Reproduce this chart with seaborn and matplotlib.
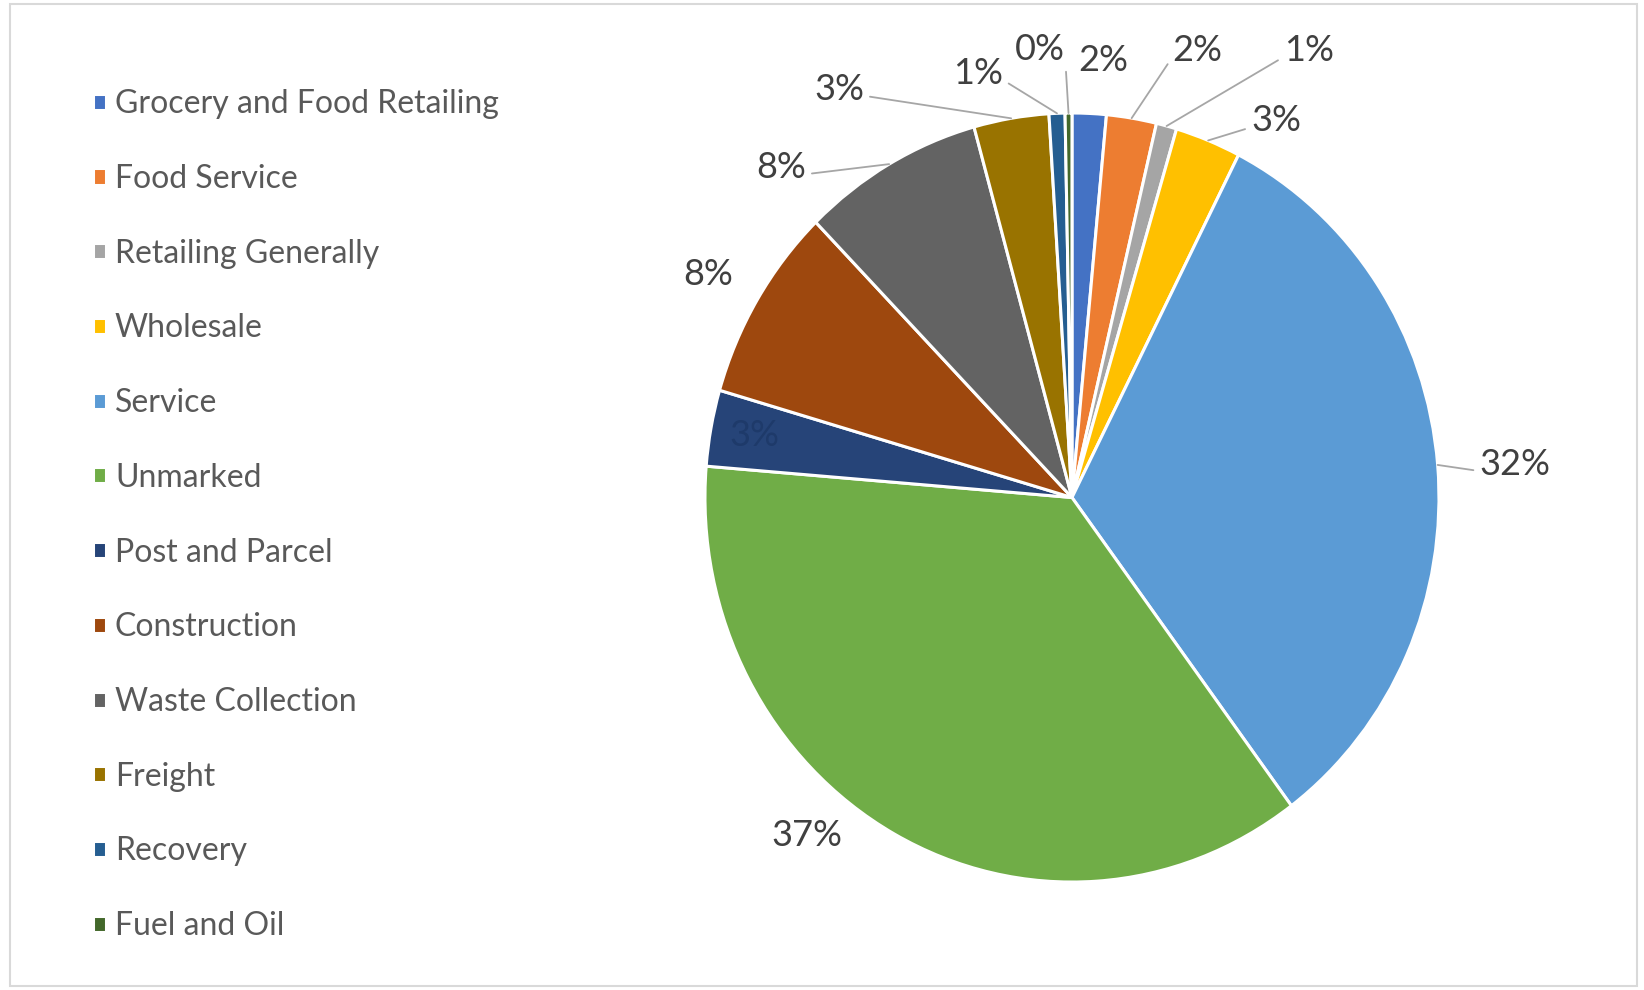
import matplotlib
matplotlib.use("Agg")
import numpy as np
import matplotlib.pyplot as plt
import seaborn as sns
from matplotlib.patches import Rectangle

# ---- data ----
categories = ["Grocery and Food Retailing", "Food Service", "Retailing Generally",
              "Wholesale", "Service", "Unmarked", "Post and Parcel", "Construction",
              "Waste Collection", "Freight", "Recovery", "Fuel and Oil"]
shares = [1.5, 2.2, 0.9, 2.9, 32.3, 36.5, 3.2, 8.2, 8.0, 3.3, 0.7, 0.3]
pct_labels = ["2%", "2%", "1%", "3%", "32%", "37%", "3%", "8%", "8%", "3%", "1%", "0%"]

# ---- styling ----
colors = ["#4472C4", "#ED7D31", "#A5A5A5", "#FFC000", "#5B9BD5", "#70AD47",
          "#264478", "#9E480E", "#636363", "#997300", "#255E91", "#43682B"]
label_xy = [(0.085, 1.136), (0.342, 1.163), (0.645, 1.163), (0.556, 0.980),
            (1.207, 0.086), (-0.721, -0.879), (-0.864, 0.162), (-0.990, 0.580),
            (-0.793, 0.858), (-0.635, 1.062), (-0.256, 1.103), (-0.087, 1.166)]
leader = [False, True, True, True, True, False, False, False, True, True, True, True]
label_color = ["#404040"] * 12
label_color[6] = "#1e3a6a"

sns.set_theme(style="white")
plt.rcParams['font.family'] = ['Lato', 'DejaVu Sans']

fig = plt.figure(figsize=(16.44, 9.90), dpi=100)
fig.patch.set_facecolor("white")
ax = fig.add_axes([0.3172, 0.0003, 0.6697, 0.9943])
wedges, _ = ax.pie(shares, colors=colors, startangle=90, counterclock=False,
                   radius=1.0, wedgeprops=dict(edgecolor="white", linewidth=2.2))
ax.set_aspect("auto")
ax.set_xlim(-1.5, 1.5)
ax.set_ylim(-1.28, 1.28)
ax.axis("off")

for w, txt, (tx, ty), ld, col in zip(wedges, pct_labels, label_xy, leader, label_color):
    mid = np.deg2rad((w.theta1 + w.theta2) / 2)
    ex, ey = np.cos(mid), np.sin(mid)
    if ld:
        relx = 1.0 if tx < ex else 0.0
        ax.annotate(txt, xy=(ex, ey), xytext=(tx, ty),
                    ha="center", va="center", fontsize=26, color=col,
                    arrowprops=dict(arrowstyle="-", color="#a6a6a6", lw=1.3,
                                    shrinkA=2, shrinkB=0, relpos=(relx, 0.3),
                                    connectionstyle="arc3"))
    else:
        ax.text(tx, ty, txt, ha="center", va="center", fontsize=26, color=col)

fig.legend(wedges, categories, loc="upper left",
           bbox_to_anchor=(0.047, 0.926), frameon=False, fontsize=23,
           handlelength=0.4, handleheight=0.4, handletextpad=0.28,
           labelspacing=1.40, labelcolor="#595959", borderpad=0)

fig.patches.append(Rectangle((0.006, 0.004), 0.99, 0.992, transform=fig.transFigure,
                             fill=False, edgecolor="#d9d9d9", lw=1.5))

fig.savefig("out.png", dpi=100, facecolor="white")
